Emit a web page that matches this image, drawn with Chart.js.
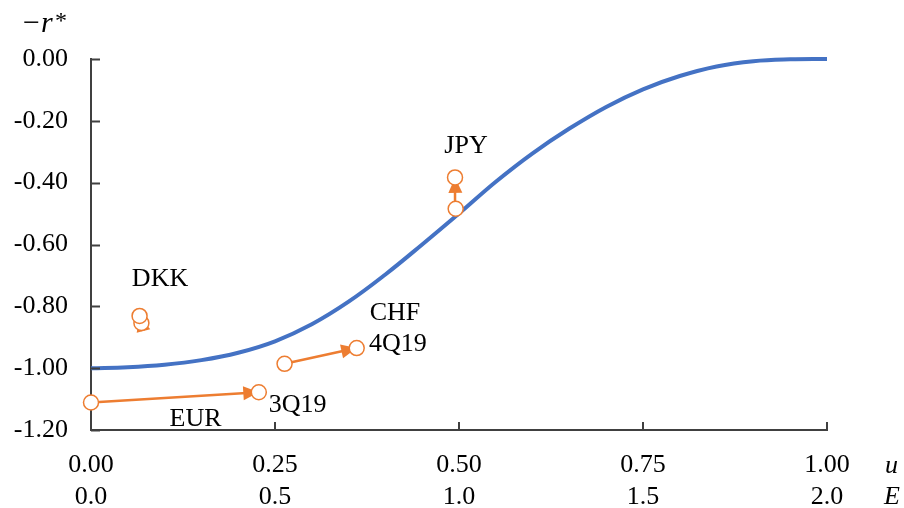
<!DOCTYPE html>
<html>
<head>
<meta charset="utf-8">
<script src="https://cdn.jsdelivr.net/npm/chart.js@4.4.1/dist/chart.umd.min.js"></script>
<style>
  html, body { margin: 0; padding: 0; background: #fff; }
  #wrap { width: 904px; height: 508px; }
</style>
</head>
<body>
<div id="wrap"><canvas id="myChart" width="904" height="508"></canvas></div>
<script>
// curve -r* against u
const curveU = [0, 0.05, 0.10, 0.15, 0.20, 0.25, 0.30, 0.35, 0.40, 0.45, 0.50, 0.55, 0.60, 0.65, 0.70, 0.75, 0.80, 0.85, 0.90, 0.95, 1.00]
const curveR = [-1.000, -0.997, -0.989, -0.974, -0.950, -0.913, -0.858, -0.785, -0.697, -0.600, -0.500, -0.397, -0.305, -0.225, -0.155, -0.098, -0.055, -0.024, -0.007, -0.001, 0.000]

// currencies: 3Q19 -> 4Q19
const currencies = ['EUR', 'CHF', 'JPY', 'DKK']
const startU = [0.000, 0.263, 0.4955, 0.0685]
const startR = [-1.111, -0.986, -0.4845, -0.854]
const endU = [0.228, 0.361, 0.4946, 0.066]
const endR = [-1.078, -0.935, -0.383, -0.831]

// tick labels
const uTicks = ['0.00', '0.25', '0.50', '0.75', '1.00']
const eTicks = ['0.0', '0.5', '1.0', '1.5', '2.0']

// text notes (data coords, baseline)
const noteText = ['JPY', 'DKK', 'CHF', '4Q19', '3Q19', 'EUR']
const noteU = [0.5095, 0.0938, 0.413, 0.417, 0.2806, 0.142]
const noteR = [-0.303, -0.734, -0.844, -0.944, -1.141, -1.187]

const BLUE = '#4472C4'
const ORANGE = '#ED7D31'
const FONT = "'Liberation Serif', 'Times New Roman', serif"

const curveData = curveU.map((u, i) => ({ x: u, y: curveR[i] }))

const arrowSets = currencies.map((c, i) => ({
    label: c,
    data: [{ x: startU[i], y: startR[i] }, { x: endU[i], y: endR[i] }],
    showLine: true,
    borderColor: ORANGE,
    borderWidth: 2.5,
    pointRadius: 7.5,
    pointHoverRadius: 7.5,
    pointBackgroundColor: '#fff',
    pointBorderColor: ORANGE,
    pointBorderWidth: 1.5,
    clip: false,
    order: 0
}))

// arrow heads under the markers, inner tick marks, notes and axis names
const extras = {
    id: 'extras',
    beforeDatasetsDraw(chart) {
        const c = chart.ctx, xs = chart.scales.x, ys = chart.scales.y
        c.save()
        c.fillStyle = ORANGE
        currencies.forEach((cur, i) => {
            const x0 = xs.getPixelForValue(startU[i]), y0 = ys.getPixelForValue(startR[i])
            const x1 = xs.getPixelForValue(endU[i]), y1 = ys.getPixelForValue(endR[i])
            const a = Math.atan2(y1 - y0, x1 - x0)
            const len = 15.5, hw = 7
            const bx = x1 - len * Math.cos(a), by = y1 - len * Math.sin(a)
            c.beginPath()
            c.moveTo(x1, y1)
            c.lineTo(bx + hw * Math.sin(a), by - hw * Math.cos(a))
            c.lineTo(bx - hw * Math.sin(a), by + hw * Math.cos(a))
            c.closePath()
            c.fill()
        })
        c.restore()
    },
    afterDraw(chart) {
        const c = chart.ctx, xs = chart.scales.x, ys = chart.scales.y
        const area = chart.chartArea
        c.save()
        c.strokeStyle = '#404040'
        c.lineWidth = 2
        c.beginPath()
        ys.ticks.forEach(t => {
            const y = Math.round(ys.getPixelForValue(t.value)) + 0.5
            c.moveTo(area.left, y)
            c.lineTo(area.left + 9, y)
        })
        xs.ticks.forEach(t => {
            const x = Math.round(xs.getPixelForValue(t.value))
            c.moveTo(x, area.bottom)
            c.lineTo(x, area.bottom - 8)
        })
        c.stroke()

        c.fillStyle = '#000'
        c.font = '26px ' + FONT
        c.textAlign = 'center'
        c.textBaseline = 'alphabetic'
        noteText.forEach((t, i) => {
            c.fillText(t, xs.getPixelForValue(noteU[i]), ys.getPixelForValue(noteR[i]))
        })

        // axis names
        c.textAlign = 'left'
        c.font = 'italic 26px ' + FONT
        c.textBaseline = 'middle'
        c.fillText('u', 885, 466)
        c.fillText('E', 884, 497)

        c.textBaseline = 'alphabetic'
        c.font = '30px ' + FONT
        c.fillText('\u2212', 23, 32)
        c.font = 'italic 30px ' + FONT
        c.fillText('r', 41, 32)
        c.font = '24px ' + FONT
        c.fillText('*', 55, 28)
        c.restore()
    }
}

const ctx = document.getElementById('myChart')
const myChart = new Chart(ctx, {
    type: 'scatter',
    data: {
        datasets: [
            ...arrowSets,
            {
                label: 'curve',
                data: curveData,
                showLine: true,
                borderColor: BLUE,
                borderWidth: 4,
                pointRadius: 0,
                tension: 0.4,
                clip: false,
                order: 10
            }
        ]
    },
    options: {
        responsive: false,
        animation: false,
        events: [],
        layout: { padding: { left: 0, top: 59, right: 77, bottom: 0 } },
        plugins: { legend: { display: false }, tooltip: { enabled: false } },
        scales: {
            x: {
                type: 'linear',
                min: 0,
                max: 1,
                afterFit: s => { s.height = 78 },
                grid: { display: true, drawOnChartArea: false, drawTicks: false },
                border: { display: true, color: '#404040', width: 2 },
                ticks: {
                    stepSize: 0.25,
                    padding: 20,
                    color: '#000',
                    maxRotation: 0,
                    autoSkip: false,
                    font: { family: FONT, size: 26, lineHeight: 1.2 },
                    callback: (v, i) => [uTicks[i], eTicks[i]]
                }
            },
            y: {
                type: 'linear',
                min: -1.2,
                max: 0,
                afterFit: s => { s.width = 91 },
                grid: { display: true, drawOnChartArea: false, drawTicks: false },
                border: { display: true, color: '#404040', width: 2 },
                ticks: {
                    stepSize: 0.2,
                    padding: 23,
                    color: '#000',
                    font: { family: FONT, size: 26 },
                    callback: v => (Math.abs(v) < 1e-9 ? 0 : v).toFixed(2)
                }
            }
        }
    },
    plugins: [extras]
})
</script>
</body>
</html>
